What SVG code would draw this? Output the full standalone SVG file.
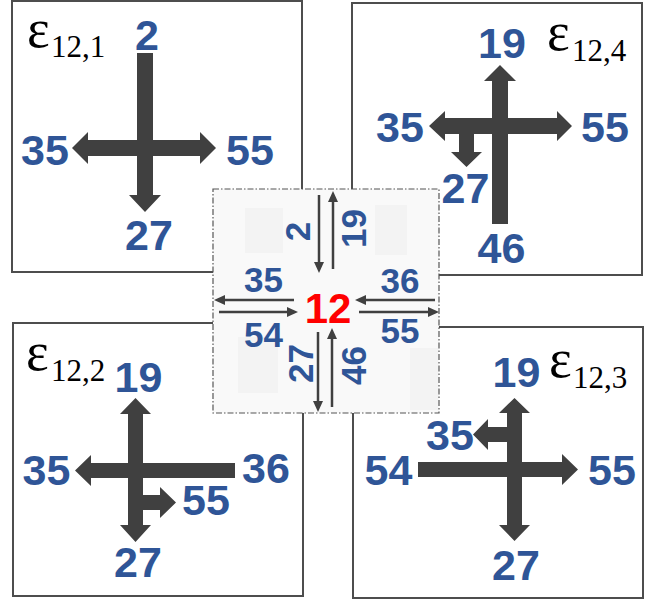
<svg xmlns="http://www.w3.org/2000/svg" width="651" height="599" viewBox="0 0 651 599">
<style>
.box{fill:#ffffff;stroke:#4d4d4d;stroke-width:2}
.blk{fill:#404040}
.lbl{font-family:"Liberation Sans",Arial,sans-serif;font-weight:bold;font-size:43px;fill:#2F5597;text-anchor:middle}
.cl{font-family:"Liberation Sans",Arial,sans-serif;font-weight:bold;font-size:35px;fill:#2F5597;text-anchor:middle}
.eps{font-family:"Liberation Serif","Times New Roman",serif;fill:#000000}
.thin{stroke:#404040;stroke-width:2.5;fill:none;marker-end:url(#ah)}
.tex{fill:#f3f3f3}
</style>
<defs>
<marker id="ah" markerUnits="userSpaceOnUse" markerWidth="12" markerHeight="11" refX="1" refY="5" orient="auto">
<path d="M0,0 L11,5 L0,10 Z" fill="#404040"/>
</marker>
</defs>
<rect width="651" height="599" fill="#ffffff"/>

<g id="box1">
<rect class="box" x="12" y="1" width="290" height="271"/>
<text class="eps" x="27" y="47"><tspan font-size="54">ε</tspan><tspan x="51" y="57" font-size="31">12,1</tspan></text>
<path class="blk" d="M137,53 L153,53 L153,195 L161,195 L145,212 L129,195 L137,195 Z"/>
<path class="blk" d="M72,148 L88,132 L88,140 L200,140 L200,132 L216,148 L200,164 L200,156 L88,156 L88,164 Z"/>
<text class="lbl" x="147" y="50">2</text>
<text class="lbl" x="45" y="165">35</text>
<text class="lbl" x="250" y="165">55</text>
<text class="lbl" x="149" y="250">27</text>
</g>

<g id="box4">
<rect class="box" x="352" y="3" width="290" height="272"/>
<text class="eps" x="547" y="50"><tspan font-size="54">ε</tspan><tspan x="572" y="61" font-size="31">12,4</tspan></text>
<path class="blk" d="M492,224 L492,81 L484,81 L500,65 L516,81 L508,81 L508,224 Z"/>
<path class="blk" d="M429,126 L445,111 L445,118 L557,118 L557,111 L572,126 L557,141 L557,134 L445,134 L445,141 Z"/>
<path class="blk" d="M459,130 L474,130 L474,152 L482,152 L466.5,167 L451,152 L459,152 Z"/>
<text class="lbl" x="502" y="58">19</text>
<text class="lbl" x="400" y="142">35</text>
<text class="lbl" x="605" y="142">55</text>
<text class="lbl" x="465.5" y="203">27</text>
<text class="lbl" x="501.5" y="263">46</text>
</g>

<g id="box2">
<rect class="box" x="13" y="323" width="290" height="273"/>
<text class="eps" x="26" y="370"><tspan font-size="54">ε</tspan><tspan x="51" y="381" font-size="31">12,2</tspan></text>
<path class="blk" d="M135.5,398 L151,414 L143,414 L143,525 L151,525 L135.5,542 L120,525 L128,525 L128,414 L120,414 Z"/>
<path class="blk" d="M235,463 L91,463 L91,455 L75,470.5 L91,486 L91,478 L235,478 Z"/>
<path class="blk" d="M140,495 L160,495 L160,487 L176,502.5 L160,518 L160,510 L140,510 Z"/>
<text class="lbl" x="138.5" y="392">19</text>
<text class="lbl" x="46.5" y="485">35</text>
<text class="lbl" x="266" y="483">36</text>
<text class="lbl" x="206" y="515">55</text>
<text class="lbl" x="138" y="577">27</text>
</g>

<g id="box3">
<rect class="box" x="353" y="327" width="290" height="271"/>
<text class="eps" x="549" y="377"><tspan font-size="54">ε</tspan><tspan x="573" y="388" font-size="31">12,3</tspan></text>
<path class="blk" d="M514.5,398 L530,413 L522,413 L522,525 L530,525 L514.5,541 L499,525 L507,525 L507,413 L499,413 Z"/>
<path class="blk" d="M418,462 L562,462 L562,454 L578,469.5 L562,485 L562,477 L418,477 Z"/>
<path class="blk" d="M510,427 L488,427 L488,419 L473,434.5 L488,450 L488,442 L510,442 Z"/>
<text class="lbl" x="516.5" y="387">19</text>
<text class="lbl" x="450" y="450">35</text>
<text class="lbl" x="388.5" y="485">54</text>
<text class="lbl" x="612" y="485">55</text>
<text class="lbl" x="516" y="580">27</text>
</g>

<g id="center">
<rect x="213" y="189" width="226" height="224" fill="#f9f9f9" stroke="#555555" stroke-width="1.2" stroke-dasharray="6,2,1.5,2"/>
<rect class="tex" x="245" y="208" width="38" height="45"/>
<rect class="tex" x="375" y="205" width="32" height="50"/>
<rect class="tex" x="238" y="337" width="40" height="56"/>
<rect class="tex" x="410" y="348" width="28" height="62"/>
<text x="328" y="323" font-family="'Liberation Sans',Arial,sans-serif" font-weight="bold" font-size="42" fill="#FF0000" text-anchor="middle">12</text>
<text class="cl" x="263.5" y="292">35</text>
<text class="cl" x="263.5" y="347">54</text>
<text class="cl" x="400" y="293">36</text>
<text class="cl" x="400" y="343">55</text>
<text class="cl" transform="translate(310,231.5) rotate(-90)" x="0" y="0">2</text>
<text class="cl" transform="translate(366,228.5) rotate(-90)" x="0" y="0">19</text>
<text class="cl" transform="translate(313,363.5) rotate(-90)" x="0" y="0">27</text>
<text class="cl" transform="translate(366,365.5) rotate(-90)" x="0" y="0">46</text>
</g>

<g id="connectors">
<line class="thin" x1="319" y1="195" x2="319" y2="263"/>
<line class="thin" x1="333" y1="269" x2="333" y2="201"/>
<line class="thin" x1="294" y1="300" x2="224" y2="300"/>
<line class="thin" x1="219" y1="312" x2="288" y2="312"/>
<line class="thin" x1="435" y1="300" x2="365" y2="300"/>
<line class="thin" x1="359" y1="312" x2="429" y2="312"/>
<line class="thin" x1="318" y1="332" x2="318" y2="402"/>
<line class="thin" x1="332" y1="407" x2="332" y2="338"/>
</g>
</svg>
